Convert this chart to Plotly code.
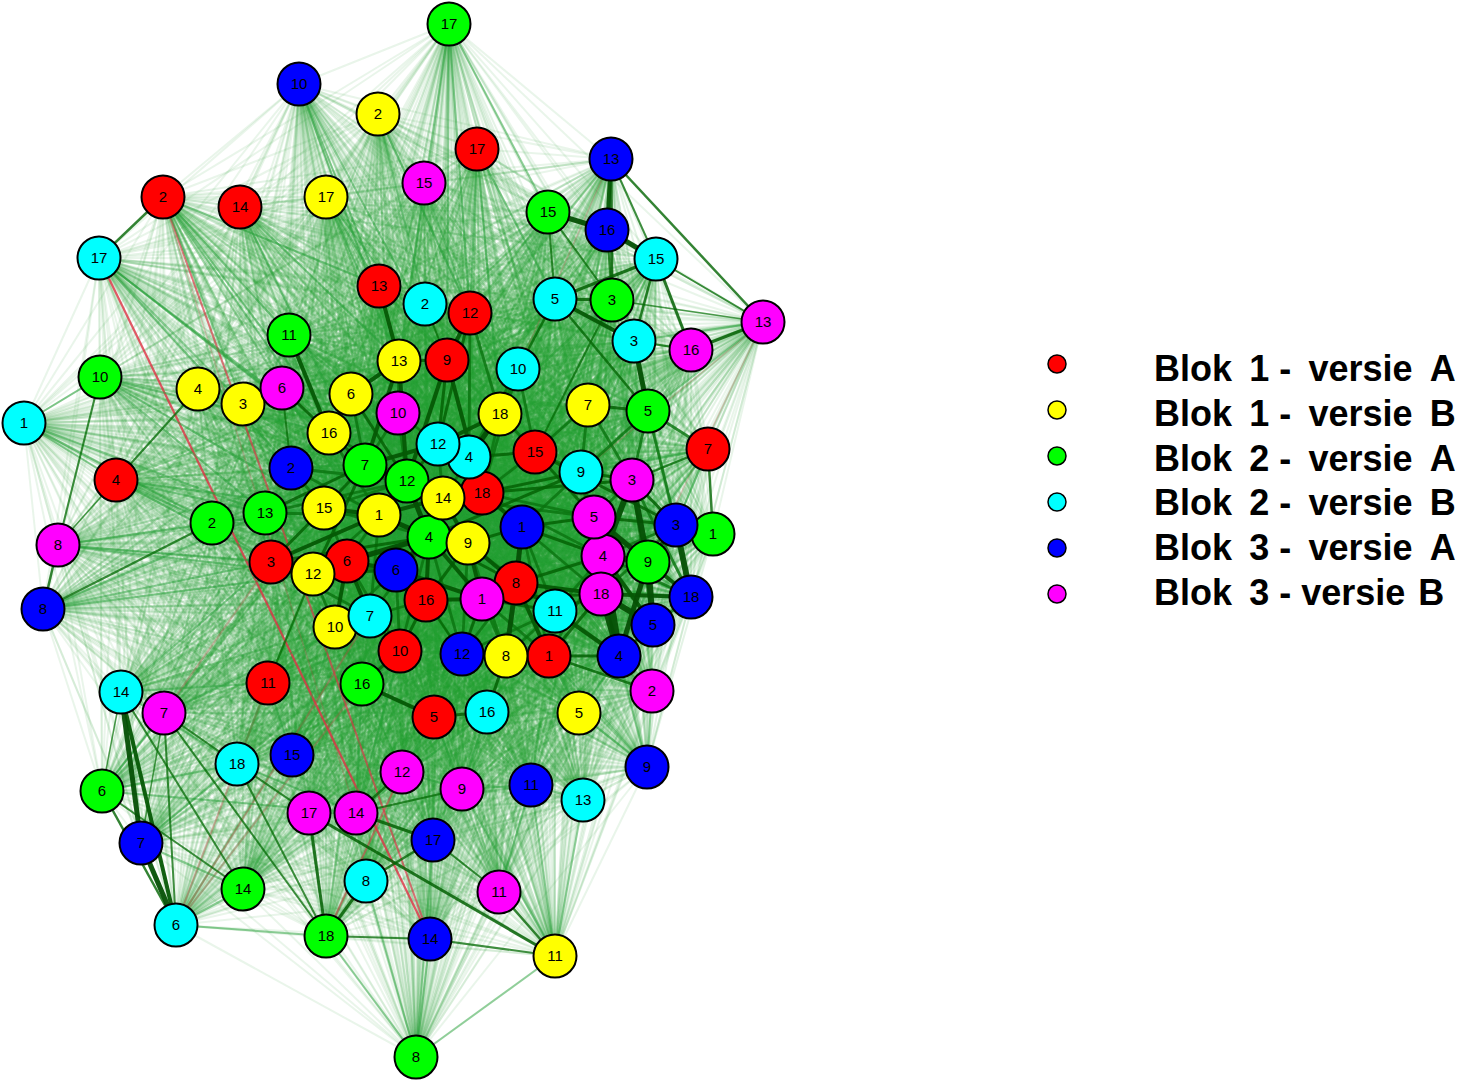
import plotly.graph_objects as go

GROUPS = ["G", "B", "R", "Y", "C", "M"]
COLORS = {"R": "#ff0000", "Y": "#ffff00", "G": "#00ff00", "C": "#00ffff", "B": "#0000ff", "M": "#ff00ff"}

# node positions, index = label - 1
R_x = [549,163,271,116,434,347,708,516,447,400,268,470,379,240,535,426,477,482]
R_y = [656,197,562,480,717,561,449,583,360,651,683,313,286,207,452,600,149,493]
Y_x = [379,378,243,198,579,351,588,506,468,335,555,313,399,443,324,329,326,500]
Y_y = [515,114,404,389,713,394,405,656,543,627,956,574,361,498,508,433,197,414]
G_x = [713,212,612,429,648,102,365,416,648,100,289,407,265,243,548,362,449,326]
G_y = [534,523,300,537,411,791,465,1057,562,377,335,481,513,889,212,684,24,936]
C_x = [24,425,634,469,555,176,370,366,581,518,555,438,583,121,656,487,99,237]
C_y = [423,304,341,457,299,925,616,881,472,369,611,444,800,692,259,712,258,764]
B_x = [522,291,676,619,653,396,141,43,647,299,531,462,611,430,292,607,433,691]
B_y = [527,468,525,656,625,570,843,609,767,84,785,654,159,939,755,230,840,597]
M_x = [482,652,632,603,594,282,164,58,462,398,499,402,763,356,424,691,309,601]
M_y = [599,691,480,556,517,388,713,545,789,413,892,772,322,813,183,350,813,594]

# visual strength of each node's connections
R_s = [.75,.45,.8,.5,.7,.95,.55,.95,.9,.8,.5,.75,.7,.45,.8,.9,.45,1]
Y_s = [1,.4,.55,.5,.6,.8,.65,.8,.95,.7,.35,.8,.85,.95,.85,.8,.5,.8]
G_s = [.55,.55,.7,1,.65,.35,.95,.25,.85,.4,.65,1,.7,.4,.6,.65,.3,.4]
C_s = [.25,.7,.7,.9,.7,.3,.8,.45,.85,.75,.85,.95,.45,.4,.55,.7,.35,.5]
B_s = [.95,.75,.8,.85,.8,.95,.35,.35,.4,.35,.5,.75,.4,.35,.5,.5,.5,.7]
M_s = [.95,.55,.85,.9,.9,.6,.4,.35,.55,.8,.4,.5,.35,.5,.45,.5,.45,.85]

# strongest edges: node, node, width
strong_edges = [
 ("B13","B16",4),("B13","M13",2.5),("B13","C15",2),("G15","B16",5),("B16","C15",5),("G15","C5",2),("G15","G3",2),
 ("C5","C15",3),("C5","G3",3),("C5","C3",4),("C3","G5",5),("C15","C3",2.5),("C15","M16",3),("C3","M16",2),
 ("M16","M13",3),("C15","M13",2),("G3","M13",1.5),("C5","G5",2.5),("Y7","G5",3),("C5","C10",2.5),("G3","R15",2),
 ("B16","G3",2),("B13","G3",3),
 ("R7","G1",2.5),("R7","M3",2),("M3","B3",3),("M3","G9",6),("B3","B18",6),("B3","G9",4),("G9","B18",4),("G9","B5",6),
 ("M4","B4",8),("M18","B4",6),("M18","B5",6),("M4","G9",6),("M5","B3",3),("M5","G9",5),("M18","B18",4),("M4","B5",4),
 ("G9","B4",5),("B4","C11",4),("B4","R1",3),("R1","M2",2.5),("C9","M3",3),("M3","M4",6),("R15","B3",3),
 ("C14","B7",5),("C14","C6",4),("B7","C6",5),("G6","C6",2.5),("C14","G6",1.5),("M7","C6",2),("M7","B7",1.5),
 ("C14","G14",2),("M7","C18",2),("M7","G18",2),("G6","G14",2),("C18","G18",2),("C18","M17",2),("M17","G18",3),
 ("G18","C8",3),("C8","B17",2.5),("B17","M14",3),("M14","M12",2.5),("M14","M9",2),("M17","Y11",3),("M11","Y11",2.5),
 ("B17","M11",2),("B14","Y11",2),("G18","B14",2),("R2","C17",2.5),("M8","B8",2.5),("M8","R4",1.5),("G10","M8",2),
 ("Y4","R4",2),("G2","B8",2),
 ("G7","G12",5),("G12","G4",5),("Y1","G4",5),("Y1","G12",4),("G4","B6",5),("R6","G4",5),("R6","B6",4),("Y15","G7",3),
 ("Y15","Y1",4),("R3","Y1",4),("R3","G4",3),("Y12","G7",3),("Y12","B6",3),("Y16","G7",3),("C12","G7",4),("C12","G12",3),
 ("C4","Y18",5),("Y18","C12",4),("C4","R15",3),("G12","R18",5),("R18","B1",4),("B1","R8",5),("R8","Y9",4),("Y9","M1",4),
 ("M1","R16",4),("M1","B6",4),("R16","B6",4),("R16","Y9",3),("G4","M1",4),("G4","R8",3),("Y14","Y9",4),("R9","G12",4),
 ("R9","C12",3),("Y13","R9",3),("Y13","Y6",4),("Y13","G7",4),("Y13","G12",4),("R13","Y13",4),("R12","R9",4),("C2","R9",2),
 ("R12","C12",3),("R9","R18",4),("Y6","G12",3),("M6","Y16",3),("M6","B2",2),("G11","Y16",4),("G13","G7",3),("R3","Y15",3),
 ("R6","C7",4),("Y10","R6",4),("R10","R16",3),("R16","B12",2),("M1","B12",3),("R8","Y8",5),("R8","R1",4),("R8","C11",4),
 ("C11","M1",3),("C11","M18",3),("B1","M5",3),("B1","M4",3),("R18","C9",3),("R18","M3",3),("C9","G4",3),("R15","M5",3),
 ("M4","R8",3),("M18","R8",4),("M18","M1",3),("M18","R1",3),("Y8","C16",3),("G16","R5",4),("C16","R5",3),("R10","G16",3),
 ("R11","Y12",2),("Y9","B1",3),("R16","G4",4),("Y14","Y1",4),("Y14","G4",4),
]
# thinner dark edges in the core
core_edges = [
 ("Y16","G12"),("Y16","Y1"),("B2","Y1"),("B2","G12"),("B2","Y15"),("G13","Y1"),("G13","G12"),("Y15","G12"),("Y15","G4"),("Y15","R6"),
 ("Y12","Y1"),("Y12","G4"),("R6","Y1"),("R3","R6"),("R3","B6"),("R3","C7"),("Y10","Y12"),("Y10","B6"),("C7","R16"),("C7","G4"),
 ("C7","Y1"),("R10","B6"),("R10","R6"),("R10","G4"),("R10","C7"),("B12","R8"),("B12","Y9"),("B12","G4"),("B12","R16"),("B12","C11"),
 ("Y8","M1"),("Y8","Y9"),("Y8","C11"),("R1","M1"),("R1","B1"),("R1","M4"),("C11","B1"),("C11","Y9"),("C11","M4"),("M4","R18"),
 ("M5","R18"),("M5","Y14"),("M5","M3"),("M5","M4"),("C9","B1"),("C9","M4"),("C9","R15"),("R15","Y18"),("R15","R18"),("Y18","R18"),
 ("Y18","Y14"),("C12","Y14"),("C12","R18"),("M10","C12"),("M10","G12"),("M10","G7"),("M10","Y13"),("Y6","G7"),("Y6","Y16"),("R12","C4"),
 ("R12","Y18"),("C10","C4"),("C10","R18"),("C10","Y18"),("C10","R15"),("Y7","M3"),("Y7","C9"),("Y7","R15"),("G5","M3"),("G5","C9"),
 ("G5","B3"),("G5","R7"),("M18","M5"),("M18","B1"),("M18","C9"),("B3","M4"),("B3","M18"),("B5","M3"),("B5","B4"),("B18","B5"),
 ("B18","M4"),("B18","M3"),
]
# medium edges: bright green, thinner
medium_edges = [
 ("R4","G2"),("R4","G13"),("R4","R3"),("R4","Y15"),("M8","Y15"),("M8","R3"),("M8","Y12"),("B8","G13"),("B8","R3"),("B8","Y12"),
 ("G10","G13"),("G10","Y15"),("G10","Y16"),("C1","R4"),("C1","G10"),("C1","G2"),("C1","G13"),("C17","Y16"),("C17","B2"),("C17","G7"),
 ("C17","Y3"),("R2","Y16"),("R2","G11"),("R2","Y3"),("R2","C2"),("R2","G7"),("R14","G7"),("R14","Y13"),("Y17","Y13"),("Y17","R13"),
 ("Y17","R9"),("B10","Y13"),("B10","R13"),("B10","R9"),("G17","Y13"),("G17","R9"),("G17","R12"),("Y2","R12"),("Y2","C2"),("R17","R12"),
 ("R17","Y18"),("R17","C5"),("M15","R12"),("G17","G15"),("C14","R3"),("C14","R11"),("C14","C18"),("M7","C7"),("R11","C18"),("G6","C18"),
 ("G6","M7"),("G6","M14"),("B7","G14"),("B7","C18"),("C6","G14"),("C6","G18"),("M17","M14"),("C18","M14"),("G8","Y11"),("G8","B14"),
 ("G8","C8"),("G8","B17"),("G8","G18"),("Y11","M9"),("Y11","B11"),("Y11","C13"),("B11","M11"),("B11","M9"),("M9","M12"),("C13","B11"),
 ("B9","R1"),("B9","Y5"),("B9","M2"),("B9","B4"),("Y5","B4"),("Y5","R1"),("M13","G5"),("M13","C3"),("R7","B3"),("R7","M18"),("R7","C9"),
 ("M14","G16"),("M14","R10"),("M14","C16"),("M12","R5"),("M9","R5"),("M9","C16"),("B15","Y10"),("B15","R11"),
]
# negative edges: node, node, width, opacity
red_edges = [
 ("C17","B14",2.2,.8),("R2","B14",2,.65),("G18","M12",2,.5),("C6","R11",2,.3),("C6","C7",2,.3),("C6","G16",2,.25),
 ("M7","R3",2,.25),("B13","C10",1.5,.2),("M13","C9",1.5,.2),("M13","G9",1.5,.2),("M14","R2",1.5,.2),
]

legend_labels = ["Blok\u2009\u00a01\u00a0-\u00a0\u2009versie\u2009\u00a0A", "Blok\u2009\u00a01\u00a0-\u00a0\u2009versie\u2009\u00a0B",
                 "Blok\u2009\u00a02\u00a0-\u00a0\u2009versie\u2009\u00a0A", "Blok\u2009\u00a02\u00a0-\u00a0\u2009versie\u2009\u00a0B",
                 "Blok\u2009\u00a03\u00a0-\u00a0\u2009versie\u2009\u00a0A", "Blok\u2009\u00a03\u00a0-\u00a0versie\u200a\u00a0B"]
legend_groups = ["R", "Y", "G", "C", "B", "M"]
legend_marker_y = [364, 410, 456, 502, 548, 594]
legend_text_y = [372, 417, 462, 506, 551, 596]
legend_marker_x = 1057
legend_text_x = 1154

X = {"R": R_x, "Y": Y_x, "G": G_x, "C": C_x, "B": B_x, "M": M_x}
YY = {"R": R_y, "Y": Y_y, "G": G_y, "C": C_y, "B": B_y, "M": M_y}
S = {"R": R_s, "Y": Y_s, "G": G_s, "C": C_s, "B": B_s, "M": M_s}

def pos(name):
    g, i = name[0], int(name[1:]) - 1
    return X[g][i], YY[g][i]

nodes = [f"{g}{i+1}" for g in GROUPS for i in range(18)]
strength = {n: S[n[0]][int(n[1:]) - 1] for n in nodes}

BUCKETS = [(.20, .10, 2), (.35, .12, 2), (.55, .15, 2), (.75, .2, 2.2), (9, .25, 2.6)]
LAYERS = ["GB", "RY", "CM"]

fig = go.Figure()
for bi, (_, alpha, width) in enumerate(BUCKETS):
    for layer in LAYERS:
        xs, ys = [], []
        for a_i, a in enumerate(nodes):
            if a[0] not in layer:
                continue
            for b in nodes[a_i + 1:]:
                w = strength[a] * strength[b]
                k = next(i for i, bk in enumerate(BUCKETS) if w < bk[0])
                if k == bi:
                    xa, ya = pos(a); xb, yb = pos(b)
                    xs += [xa, xb, None]; ys += [ya, yb, None]
        fig.add_trace(go.Scatter(x=xs, y=ys, mode="lines", hoverinfo="skip", showlegend=False,
                                 line=dict(color=f"rgba(35,160,50,{alpha})", width=width)))

for a, b, w, op in red_edges:
    xa, ya = pos(a); xb, yb = pos(b)
    fig.add_trace(go.Scatter(x=[xa, xb], y=[ya, yb], mode="lines", hoverinfo="skip", showlegend=False,
                             line=dict(color=f"rgba(225,50,70,{op})", width=w)))

mx, my = [], []
for a, b in medium_edges:
    xa, ya = pos(a); xb, yb = pos(b)
    mx += [xa, xb, None]; my += [ya, yb, None]
fig.add_trace(go.Scatter(x=mx, y=my, mode="lines", hoverinfo="skip", showlegend=False,
                         line=dict(color="rgba(35,160,55,0.45)", width=2)))

cx, cy = [], []
for a, b in core_edges:
    xa, ya = pos(a); xb, yb = pos(b)
    cx += [xa, xb, None]; cy += [ya, yb, None]
fig.add_trace(go.Scatter(x=cx, y=cy, mode="lines", hoverinfo="skip", showlegend=False,
                         line=dict(color="rgba(10,115,15,0.8)", width=2.8)))

for a, b, w in sorted(strong_edges, key=lambda e: e[2]):
    xa, ya = pos(a); xb, yb = pos(b)
    op = min(.95, .55 + w * .1)
    col = 125 - min(w, 5) * 9
    fig.add_trace(go.Scatter(x=[xa, xb], y=[ya, yb], mode="lines", hoverinfo="skip", showlegend=False,
                             line=dict(color=f"rgba(5,{col},5,{op})", width=w)))

order = [n for n in nodes if n != "B5"]
order.insert(order.index("R1"), "B5")
for n in order:
    x, y = pos(n)
    fig.add_trace(go.Scatter(x=[x], y=[y], mode="markers", hoverinfo="skip", showlegend=False,
                             marker=dict(size=43, color=COLORS[n[0]], line=dict(color="black", width=2))))
    fig.add_trace(go.Scatter(x=[x], y=[y + 1], mode="text", text=[n[1:]], textposition="middle center",
                             hoverinfo="skip", showlegend=False,
                             textfont=dict(family="Liberation Sans, Arial", size=15, color="black")))

fig.add_trace(go.Scatter(x=[legend_marker_x] * 6, y=legend_marker_y, mode="markers", hoverinfo="skip", showlegend=False,
                         marker=dict(size=18, color=[COLORS[g] for g in legend_groups], line=dict(color="black", width=1.5))))
fig.add_trace(go.Scatter(x=[legend_text_x] * 6, y=legend_text_y, mode="text", text=legend_labels, textposition="middle right",
                         hoverinfo="skip", showlegend=False,
                         textfont=dict(family="Liberation Sans, Arial", size=36, color="black", weight="bold")))

fig.update_layout(width=1457, height=1082, margin=dict(l=0, r=0, t=0, b=0), plot_bgcolor="white", paper_bgcolor="white",
                  xaxis=dict(range=[0, 1457], visible=False, fixedrange=True),
                  yaxis=dict(range=[1082, 0], visible=False, fixedrange=True))
fig.write_html("out.html", config={"displayModeBar": False},
               post_script="document.body.style.margin='0';document.body.style.overflow='hidden';")
